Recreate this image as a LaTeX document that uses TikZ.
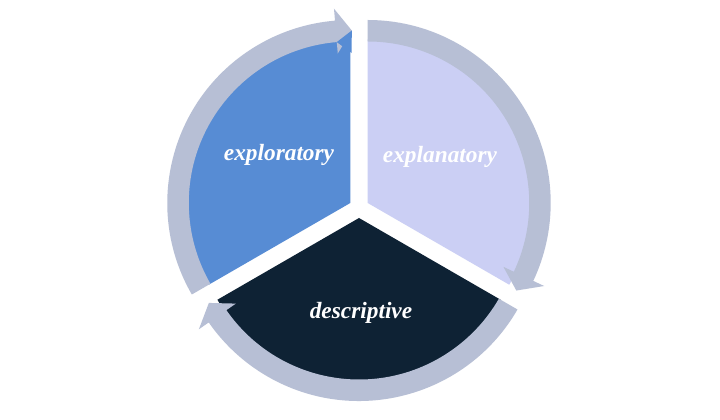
\documentclass[tikz,border=0pt]{standalone}
\usepackage{fontspec}
\setmainfont{Liberation Serif}
\usetikzlibrary{calc}
\definecolor{segblue}{HTML}{578CD4}
\definecolor{seglav}{HTML}{CBCFF4}
\definecolor{segdark}{HTML}{0E2234}
\definecolor{bandgray}{HTML}{B7BFD5}
\tikzset{
  lbl/.style={text=white,font=\fontsize{17.5}{20}\selectfont\bfseries\itshape,inner sep=0pt},
}
% #1 center, #2 tail angle, #3 head angle
\newcommand{\cyclearrow}[3]{%
  \pgfmathsetmacro{\hb}{#3+4.8}%
  \pgfmathsetmacro{\tp}{#3-0.5}%
  \fill[bandgray] ($(#1)+(#2:183)$) arc[start angle=#2,end angle=\hb,radius=183]
    -- ($(#1)+(\hb:195)$) -- ($(#1)+(\tp:172.5)$) -- ($(#1)+(\hb:150)$)
    -- ($(#1)+(\hb:161.5)$) arc[start angle=\hb,end angle=#2,radius=161.5] -- cycle;}
\newcommand{\wedgeseg}[4]{%
  \fill[#4] (#1) -- ($(#1)+(#2:163.5)$) arc[start angle=#2,end angle=#3,radius=163.5] -- cycle;}
\begin{document}
\begin{tikzpicture}[x=0.75pt,y=0.75pt]
\useasboundingbox (0,0) rectangle (720,420);
\fill[white] (0,0) rectangle (720,420);
\coordinate (C1) at (350.3,217);
\coordinate (C2) at (367.7,217);
\coordinate (C3) at (359,202);
\wedgeseg{C1}{210}{90}{segblue}
\wedgeseg{C2}{90}{-30}{seglav}
\wedgeseg{C3}{330}{210}{segdark}
\cyclearrow{C1}{210}{90}
\cyclearrow{C2}{90}{-30}
\cyclearrow{C3}{330}{210}
\fill[segblue] ($(C1)+(94.8:161.5)$) -- ($(C1)+(89.5:172.5)$) -- ($(C1)+(89.5:150)$) -- cycle;
\node[lbl] (explo) at (279,265) {exploratory};
\node[lbl] (expla) at (440,263) {explanatory};
\node[lbl] (descr) at (361,107) {descriptive};
\end{tikzpicture}
\end{document}
